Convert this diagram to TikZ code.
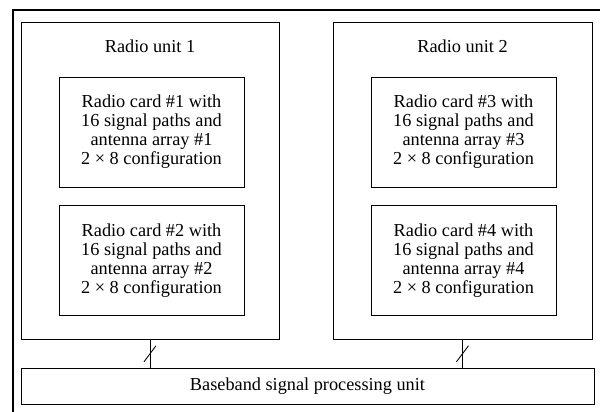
\documentclass[tikz,border=0pt]{standalone}
\usepackage{fontspec}
\setmainfont{Liberation Serif}
\usetikzlibrary{positioning,calc}

\begin{document}
\begin{tikzpicture}[
    unit/.style={rectangle, draw, line width=0.6pt, minimum width=6.45cm, minimum height=7.925cm},
    card/.style={rectangle, draw, line width=0.6pt, minimum width=4.625cm, minimum height=2.75cm, align=center, font=\fontsize{13}{13.5}\selectfont},
    title/.style={font=\fontsize{13}{13.5}\selectfont},
    wire/.style={line width=0.6pt}
]
\useasboundingbox (0,0) rectangle (15,-10.3);
\clip (0,0) rectangle (15,-10.3);

% frame
\draw[line width=0.9pt] (0.325,-0.25) rectangle (15.5,-10.8);

% === RADIO UNITS ===
\node (unit1) [unit] at (3.75,-4.5125) {};
\node (unit2) [unit, minimum width=6.475cm] at (11.5625,-4.5125) {};
\node (title1) [title, below=0.33cm of unit1.north] {Radio unit 1};
\node (title2) [title, below=0.33cm of unit2.north] {Radio unit 2};

% === RADIO CARDS ===
\node (card1) [card] at (3.7875,-3.3) {Radio card \#1 with\\16 signal paths and\\antenna array \#1\\2 × 8 configuration};
\node (card2) [card, below=0.45cm of card1] {Radio card \#2 with\\16 signal paths and\\antenna array \#2\\2 × 8 configuration};
\node (card3) [card] at (11.5875,-3.3) {Radio card \#3 with\\16 signal paths and\\antenna array \#3\\2 × 8 configuration};
\node (card4) [card, below=0.45cm of card3] {Radio card \#4 with\\16 signal paths and\\antenna array \#4\\2 × 8 configuration};

% === BASEBAND ===
\node (base) [rectangle, draw, line width=0.6pt, minimum width=14.325cm, minimum height=0.9cm, title] at (7.6875,-9.6625) {Baseband signal processing unit};

% links
\draw[wire] (unit1.south) -- (unit1.south |- base.north) coordinate[midway] (m1);
\draw[wire] (unit2.south) -- (unit2.south |- base.north) coordinate[midway] (m2);
\draw[wire] ($(m1)+(-0.15,-0.2)$) -- ($(m1)+(0.15,0.2)$);
\draw[wire] ($(m2)+(-0.15,-0.2)$) -- ($(m2)+(0.15,0.2)$);

\end{tikzpicture}
\end{document}
